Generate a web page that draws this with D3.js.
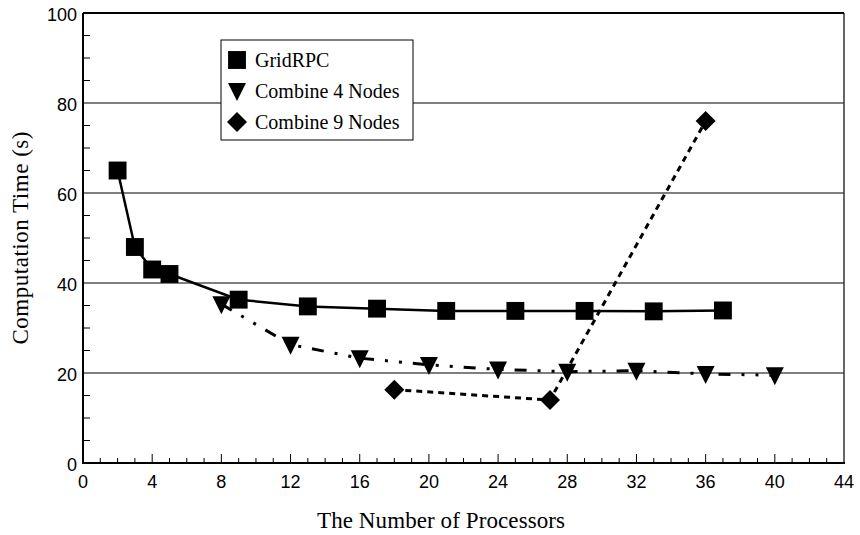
<!DOCTYPE html>
<html>
<head>
<meta charset="utf-8">
<script src="https://cdn.jsdelivr.net/npm/d3@7"></script>
<style>
body { margin: 0; background: #fff; }
</style>
</head>
<body>
<script>
var width = 860, height = 535;

// data
var gridX = [2, 3, 4, 5, 9, 13, 17, 21, 25, 29, 33, 37];
var gridY = [65, 48, 43, 42, 36.3, 34.8, 34.3, 33.8, 33.8, 33.8, 33.7, 33.9];
var c4X = [8, 12, 16, 20, 24, 28, 32, 36, 40];
var c4Y = [35.3, 26.3, 23.3, 21.8, 20.8, 20.3, 20.5, 19.8, 19.5];
var c9X = [18, 27, 36];
var c9Y = [16.3, 14, 76];
var xTicks = [0, 4, 8, 12, 16, 20, 24, 28, 32, 36, 40, 44];
var yTicks = [0, 20, 40, 60, 80, 100];
var legendNames = ["GridRPC", "Combine 4 Nodes", "Combine 9 Nodes"];

var pLeft = 83, pRight = 844, pTop = 13, pBottom = 463;

var svg = d3.select("body").append("svg")
  .attr("width", width)
  .attr("height", height);

var x = d3.scaleLinear().domain([0, 44]).range([pLeft, pRight]);
var y = d3.scaleLinear().domain([0, 100]).range([pBottom, pTop]);

// grid lines
svg.selectAll(".grid")
  .data([20, 40, 60, 80])
  .enter().append("line")
  .attr("x1", pLeft).attr("x2", pRight)
  .attr("y1", function(d) { return y(d); })
  .attr("y2", function(d) { return y(d); })
  .attr("stroke", "#555")
  .attr("stroke-width", 1.3);

// minor ticks on y (inside)
svg.selectAll(".ymin")
  .data(d3.range(5, 100, 5).filter(function(d) { return d % 20 != 0; }))
  .enter().append("line")
  .attr("x1", pLeft).attr("x2", pLeft + 7)
  .attr("y1", function(d) { return y(d); })
  .attr("y2", function(d) { return y(d); })
  .attr("stroke", "#000").attr("stroke-width", 1);

// ticks on x (inside)
svg.selectAll(".xmin")
  .data(d3.range(1, 44))
  .enter().append("line")
  .attr("x1", function(d) { return x(d); })
  .attr("x2", function(d) { return x(d); })
  .attr("y1", pBottom)
  .attr("y2", function(d) { return d % 4 == 0 ? pBottom - 9 : pBottom - 5; })
  .attr("stroke", "#000").attr("stroke-width", 1);

// frame
svg.append("line").attr("x1", pRight).attr("x2", pRight).attr("y1", pTop).attr("y2", pBottom)
  .attr("stroke", "#333").attr("stroke-width", 1.5);
svg.append("line").attr("x1", pLeft).attr("x2", pRight).attr("y1", pTop).attr("y2", pTop)
  .attr("stroke", "#000").attr("stroke-width", 2);
svg.append("line").attr("x1", pLeft).attr("x2", pLeft).attr("y1", pTop).attr("y2", pBottom)
  .attr("stroke", "#000").attr("stroke-width", 2);
svg.append("line").attr("x1", pLeft - 1).attr("x2", pRight + 1).attr("y1", pBottom).attr("y2", pBottom)
  .attr("stroke", "#000").attr("stroke-width", 2);

// tick labels
svg.selectAll(".xlab")
  .data(xTicks)
  .enter().append("text")
  .attr("x", function(d) { return x(d); })
  .attr("y", pBottom + 25)
  .attr("text-anchor", "middle")
  .attr("font-family", "Liberation Sans, Arial, sans-serif")
  .attr("font-size", 18)
  .text(function(d) { return d; });

svg.selectAll(".ylab")
  .data(yTicks)
  .enter().append("text")
  .attr("x", pLeft - 6)
  .attr("y", function(d) { return y(d) + 7.5; })
  .attr("text-anchor", "end")
  .attr("font-family", "Liberation Sans, Arial, sans-serif")
  .attr("font-size", 18)
  .text(function(d) { return d; });

// axis titles
svg.append("text")
  .attr("x", 441)
  .attr("y", 528)
  .attr("text-anchor", "middle")
  .attr("font-family", "Liberation Serif, Times New Roman, serif")
  .attr("font-size", 23)
  .attr("textLength", 248)
  .text("The Number of Processors");

svg.append("text")
  .attr("transform", "translate(28,238) rotate(-90)")
  .attr("text-anchor", "middle")
  .attr("font-family", "Liberation Serif, Times New Roman, serif")
  .attr("font-size", 23)
  .attr("textLength", 213)
  .text("Computation Time (s)");

var line = d3.line()
  .x(function(d) { return x(d[0]); })
  .y(function(d) { return y(d[1]); });

var gridData = d3.zip(gridX, gridY);
var c4Data = d3.zip(c4X, c4Y);
var c9Data = d3.zip(c9X, c9Y);

svg.append("path").datum(c4Data).attr("d", line)
  .attr("fill", "none").attr("stroke", "#000").attr("stroke-width", 3)
  .attr("stroke-dasharray", "12,11,3,11,3,11");

svg.append("path").datum(c9Data).attr("d", line)
  .attr("fill", "none").attr("stroke", "#000").attr("stroke-width", 3)
  .attr("stroke-dasharray", "6,5");

svg.append("path").datum(gridData).attr("d", line)
  .attr("fill", "none").attr("stroke", "#000").attr("stroke-width", 2.5);

var sq = d3.symbol().type(d3.symbolSquare).size(320);
var tri = "M-9,-8L9,-8L0,10Z";
var dia = "M0,-10L10,0L0,10L-10,0Z";

svg.selectAll(".sq").data(gridData).enter().append("path")
  .attr("d", sq)
  .attr("transform", function(d) { return "translate(" + x(d[0]) + "," + y(d[1]) + ")"; })
  .attr("fill", "#000");

svg.selectAll(".tri").data(c4Data).enter().append("path")
  .attr("d", tri)
  .attr("transform", function(d) { return "translate(" + x(d[0]) + "," + y(d[1]) + ")"; })
  .attr("fill", "#000");

svg.selectAll(".dia").data(c9Data).enter().append("path")
  .attr("d", dia)
  .attr("transform", function(d) { return "translate(" + x(d[0]) + "," + y(d[1]) + ")"; })
  .attr("fill", "#000");

// legend
var lg = svg.append("g");
lg.append("rect")
  .attr("x", 221).attr("y", 40)
  .attr("width", 192).attr("height", 100)
  .attr("fill", "#fff").attr("stroke", "#000").attr("stroke-width", 1);

var shapes = [sq(), tri, dia];
var rowY = [60, 91, 122];
legendNames.forEach(function(name, i) {
  lg.append("path")
    .attr("d", shapes[i])
    .attr("transform", "translate(237," + rowY[i] + ")")
    .attr("fill", "#000");
  lg.append("text")
    .attr("x", 255)
    .attr("y", rowY[i] + 7)
    .attr("font-family", "Liberation Serif, Times New Roman, serif")
    .attr("font-size", 20)
    .text(name);
});
</script>
</body>
</html>
